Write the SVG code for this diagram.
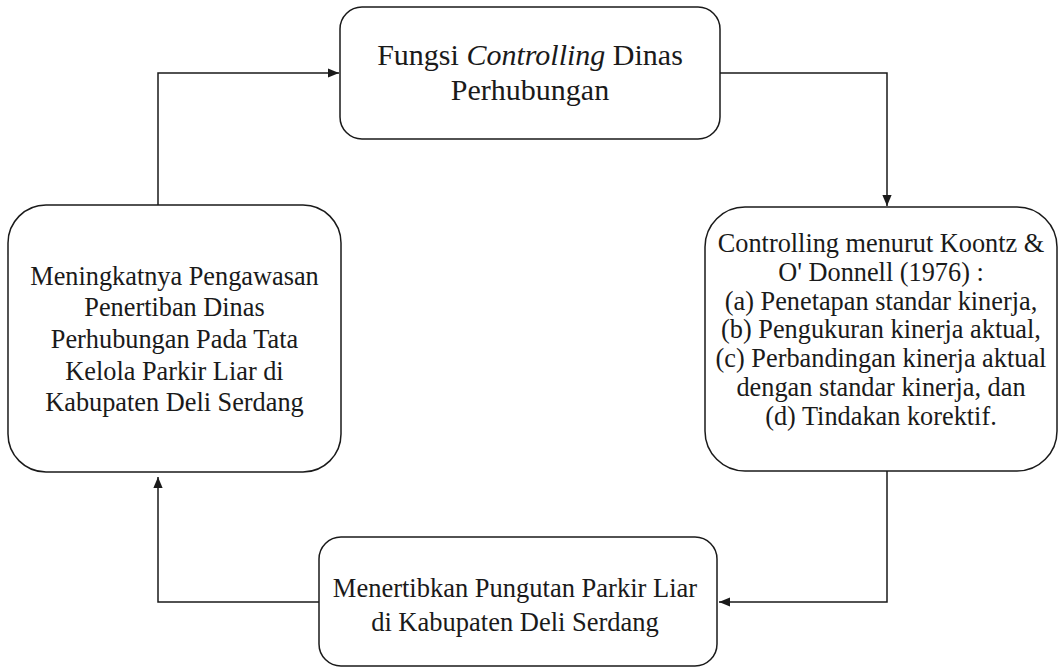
<svg xmlns="http://www.w3.org/2000/svg" width="1060" height="667" viewBox="0 0 1060 667">
<style>
.box{fill:#fff;stroke:#1a1a1a;stroke-width:1.5}
.t{font-family:"Liberation Serif","Times New Roman",serif;fill:#1a1a1a;text-anchor:middle}
.c{fill:none;stroke:#1a1a1a;stroke-width:1.5}
</style>
<defs>
<marker id="ah" viewBox="0 0 10 10" refX="10" refY="5" markerWidth="11" markerHeight="11" markerUnits="userSpaceOnUse" orient="auto">
<path d="M0,0.8 L10,5 L0,9.2 Z" fill="#1a1a1a"/>
</marker>
</defs>
<rect width="1060" height="667" fill="#fff"/>
<g id="connectors">
<path class="c" d="M158,205 V73 H339" marker-end="url(#ah)"/>
<path class="c" d="M720,73 H887 V206" marker-end="url(#ah)"/>
<path class="c" d="M887,471 V602 H719" marker-end="url(#ah)"/>
<path class="c" d="M319,602 H158 V477" marker-end="url(#ah)"/>
</g>
<g id="node-top">
<rect class="box" x="340" y="7" width="380" height="132" rx="22"/>
<text class="t" font-size="30" x="530"><tspan x="530" y="65">Fungsi <tspan font-style="italic">Controlling</tspan> Dinas</tspan><tspan x="530" y="100">Perhubungan</tspan></text>
</g>
<g id="node-right">
<rect class="box" x="705" y="207" width="352" height="264" rx="40"/>
<text class="t" font-size="26.3" x="881"><tspan x="881" y="252">Controlling menurut Koontz &amp;</tspan><tspan x="881" y="281">O' Donnell (1976) :</tspan><tspan x="881" y="310">(a) Penetapan standar kinerja,</tspan><tspan x="881" y="338">(b) Pengukuran kinerja aktual,</tspan><tspan x="881" y="367">(c) Perbandingan kinerja aktual</tspan><tspan x="881" y="396">dengan standar kinerja, dan</tspan><tspan x="881" y="425">(d) Tindakan korektif.</tspan></text>
</g>
<g id="node-left">
<rect class="box" x="8" y="205" width="333" height="267" rx="38"/>
<text class="t" font-size="26.3" x="174.5"><tspan x="174.5" y="285">Meningkatnya Pengawasan</tspan><tspan x="174.5" y="316">Penertiban Dinas</tspan><tspan x="174.5" y="348">Perhubungan Pada Tata</tspan><tspan x="174.5" y="380">Kelola Parkir Liar di</tspan><tspan x="174.5" y="411">Kabupaten Deli Serdang</tspan></text>
</g>
<g id="node-bottom">
<rect class="box" x="319" y="537" width="398" height="129" rx="22"/>
<text class="t" font-size="26.5" x="515"><tspan x="515" y="597">Menertibkan Pungutan Parkir Liar</tspan><tspan x="515" y="631">di Kabupaten Deli Serdang</tspan></text>
</g>
</svg>
